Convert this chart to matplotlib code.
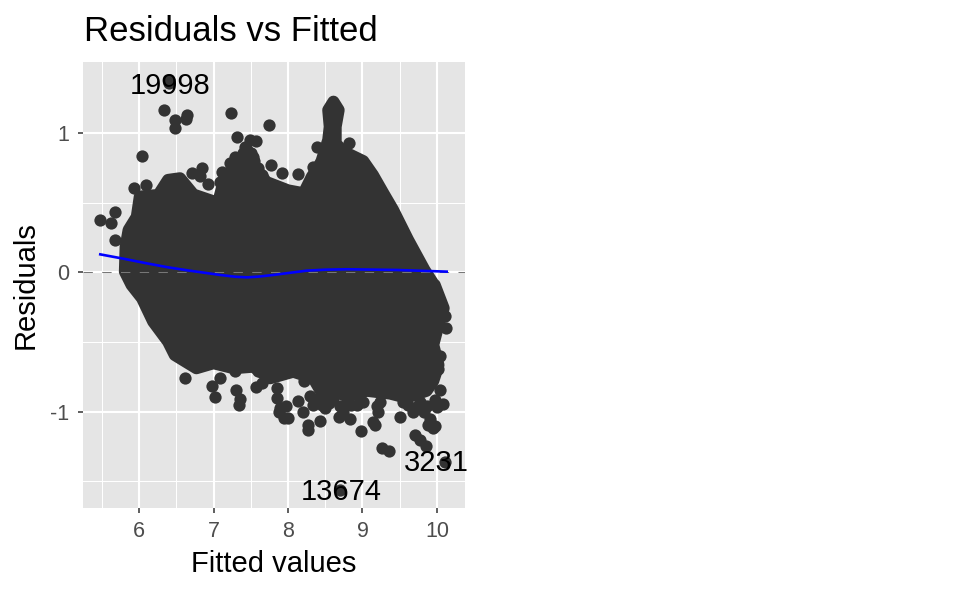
import matplotlib
matplotlib.use("Agg")
import matplotlib.pyplot as plt

plt.rcParams['font.family'] = ['Liberation Sans', 'DejaVu Sans']

# outline of the solid part of the cloud (point centres)
upper_x = [5.82, 5.86, 5.97, 6.01, 6.26, 6.39, 6.55, 6.73, 7.06, 7.11, 7.25, 7.40, 7.58, 7.71, 8.00,
           8.21, 8.32, 8.41, 8.45, 8.54, 8.56, 8.54, 8.61, 8.68, 8.64, 8.64, 8.74, 9.01, 9.14, 9.28,
           9.41, 9.61, 9.83, 9.95]
upper_y = [0.185, 0.305, 0.40, 0.545, 0.557, 0.665, 0.677, 0.56, 0.50, 0.60, 0.74, 0.83, 0.74,
           0.65, 0.59, 0.569, 0.688, 0.76, 0.80, 0.952, 1.047, 1.167, 1.227, 1.167, 1.047, 0.928,
           0.87, 0.80, 0.70, 0.569, 0.45, 0.236, 0.02, -0.08]
lower_x = [5.81, 5.90, 6.04, 6.19, 6.39, 6.48, 6.77, 7.00, 7.27, 7.53, 7.76, 8.07, 8.34, 8.47, 8.61,
           8.79, 9.06, 9.37, 9.59, 9.86, 9.95, 10.02, 9.95, 10.02, 10.09, 9.97]
lower_y = [0.006, -0.09, -0.185, -0.353, -0.497, -0.593, -0.688, -0.652, -0.688, -0.677, -0.76, -0.713,
           -0.76, -0.88, -0.85, -0.89, -0.85, -0.87, -0.90, -0.85, -0.78, -0.665, -0.52, -0.377,
           -0.257, -0.09]

# points standing clear of the cloud
out_x = [5.48, 5.68, 5.63, 5.68, 6.04, 5.93, 6.09, 6.33, 6.40, 6.40, 6.48, 6.48, 6.64, 6.63, 6.71, 6.85,
         6.82, 6.93, 7.11, 7.09, 7.24, 7.31, 7.74, 7.49, 7.57, 7.45, 7.39, 7.29, 7.22, 7.53, 7.36, 7.60,
         7.77, 7.92, 7.65, 8.13, 8.15, 8.39, 8.82, 8.34,
         6.62, 6.98, 7.02, 7.09, 7.30, 7.35, 7.34, 7.29, 7.57, 7.65, 7.60, 8.27, 8.27, 8.20, 8.14, 8.29,
         8.21, 8.43, 8.68, 8.83, 8.98, 9.17, 9.26, 9.35, 9.51, 9.70, 9.77, 9.85, 9.95, 10.11, 10.04, 9.97,
         10.08, 10.00, 10.12, 10.11, 10.02, 10.04, 8.70,
         7.85, 7.89, 7.94, 8.00, 7.85, 8.34, 8.50, 8.43, 8.61, 8.79, 8.74, 9.01, 8.92, 9.24, 9.21, 9.14,
         9.61, 9.68, 9.77, 9.82, 9.91, 9.97, 9.88,
         7.88, 7.97, 8.46, 8.55, 8.70, 8.85, 8.96, 9.19, 9.55, 9.74, 9.86, 7.45, 7.50, 7.34, 7.42, 7.55]
out_y = [0.377, 0.437, 0.353, 0.233, 0.839, 0.605, 0.629, 1.167, 1.383, 1.358, 1.096, 1.035, 1.131, 1.10,
         0.711, 0.754, 0.69, 0.632, 0.725, 0.647, 1.149, 0.97, 1.06, 0.952, 0.945, 0.88, 0.855, 0.833,
         0.79, 0.833, 0.736, 0.747, 0.769, 0.718, 0.70, 0.708, 0.567, 0.90, 0.927, 0.76,
         -0.76, -0.815, -0.898, -0.755, -0.844, -0.912, -0.952, -0.711, -0.826, -0.797, -0.711, -1.131,
         -1.096, -1.0, -0.926, -0.89, -0.78, -1.07, -1.04, -1.05, -1.136, -1.096, -1.26, -1.286, -1.04,
         -1.167, -1.203, -1.25, -1.12, -1.358, -0.844, -0.916, -0.948, -0.963, -0.40, -0.316, -0.693,
         -0.603, -1.5625,
         -0.904, -0.976, -1.047, -1.047, -0.832, -0.952, -0.976, -0.904, -0.904, -0.928, -1.0, -0.928,
         -0.952, -0.928, -1.0, -1.072, -0.952, -1.0, -0.928, -1.0, -1.05, -1.10, -1.096,
         -1.0, -0.96, -0.95, -0.94, -0.96, -0.95, -0.93, -0.96, -0.93, -0.96, -0.96, 0.80, 0.86, 0.78,
         0.90, 0.80]

# loess curve
smooth_x = [5.48, 5.80, 6.10, 6.40, 6.68, 7.09, 7.30, 7.45, 7.60, 7.80, 8.25, 8.50, 8.79, 9.46, 10.13]
smooth_y = [0.13, 0.098, 0.066, 0.036, 0.013, -0.018, -0.031, -0.035, -0.030, -0.018, 0.013, 0.020,
            0.023, 0.018, 0.006]

# labelled observations
label_names = ['19998', '13674', '3231']
label_x = [6.42, 8.71, 9.99]
label_y = [1.340, -1.576, -1.370]

W, H = 960, 593
fig = plt.figure(figsize=(W / 100, H / 100), dpi=100)
ax = fig.add_axes([83 / W, 1 - 508 / H, (465 - 83) / W, (508 - 62) / H])

ax.set_facecolor('#E5E5E5')
for s in ax.spines.values():
    s.set_visible(False)
ax.set_xlim(5.248, 10.376)
ax.set_ylim(-1.692, 1.512)

ax.set_xticks([6, 7, 8, 9, 10])
ax.set_xticks([5.5, 6.5, 7.5, 8.5, 9.5], minor=True)
ax.set_yticks([-1, 0, 1])
ax.set_yticks([-1.5, -0.5, 0.5], minor=True)
ax.set_yticklabels(['-1', '0', '1'])
ax.grid(which='major', color='white', lw=1.5)
ax.grid(which='minor', color='white', lw=0.75)
ax.set_axisbelow(True)
ax.tick_params(axis='x', which='major', length=3.3, width=1.1, color='#333333', labelcolor='#4D4D4D',
               labelsize=15.5, pad=6)
ax.tick_params(axis='y', which='major', length=3.3, width=1.1, color='#333333', labelcolor='#4D4D4D',
               labelsize=15.5, pad=6.5)
ax.tick_params(which='minor', length=0)

# the cloud is so dense that it reads as one solid shape
cloud_x = upper_x + lower_x[::-1]
cloud_y = upper_y + lower_y[::-1]
ax.fill(cloud_x, cloud_y, color='#333333', lw=8.66, joinstyle='round', zorder=2)
ax.scatter(out_x, out_y, s=78, color='#333333', linewidths=0, zorder=2.1)

ax.axhline(0, color='#777777', lw=0.75, dashes=(9, 9), zorder=3)
ax.plot(smooth_x, smooth_y, color='blue', lw=1.9, zorder=4)

for name, x, y in zip(label_names, label_x, label_y):
    ax.text(x, y, name, fontsize=21, color='black', ha='center', va='center', zorder=5, clip_on=False)

fig.text(84 / W, 1 - 41 / H, 'Residuals vs Fitted', fontsize=25, color='black', ha='left', va='baseline')
fig.text(273.5 / W, 1 - 564 / H, 'Fitted values', fontsize=21, color='black', ha='center', va='center')
fig.text(26 / W, 1 - 285 / H, 'Residuals', fontsize=21, color='black', ha='center', va='center', rotation=90)

fig.savefig('out.png', dpi=100)
